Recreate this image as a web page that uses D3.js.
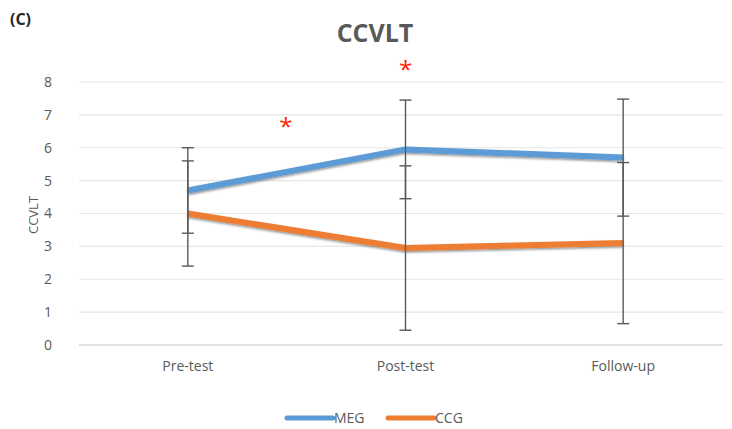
<!DOCTYPE html>
<html>
<head>
<meta charset="utf-8">
<script src="https://cdn.jsdelivr.net/npm/d3@7"></script>
<style>
  body { margin: 0; background: #fff; }
  svg text { font-family: "Open Sans", "Noto Sans", sans-serif; }
</style>
</head>
<body>
<div id="chart"></div>
<script>
// values
var categories = ["Pre-test", "Post-test", "Follow-up"];
var megValues = [4.7, 5.95, 5.7];
var ccgValues = [4.0, 2.95, 3.1];
var megErr = [1.3, 1.5, 1.78];
var ccgErr = [1.6, 2.5, 2.45];
var yTicks = [0, 1, 2, 3, 4, 5, 6, 7, 8];
var starMarks = [[0.45, 6.8], [1, 8.55]]; // [category position, value] for the "*" signs

var series = [
    {name: "MEG", values: megValues, err: megErr, color: "#5b9bd5"},
    {name: "CCG", values: ccgValues, err: ccgErr, color: "#ed7d31"}
];

var svgWidth = 732;
var svgHeight = 429;

var svg = d3.select("#chart")
    .append("svg")
    .attr("width", svgWidth)
    .attr("height", svgHeight);

var defs = svg.append("defs");
var shadow = defs.append("filter")
    .attr("id", "shadow")
    .attr("x", "-10%").attr("y", "-50%")
    .attr("width", "120%").attr("height", "200%");
shadow.append("feDropShadow")
    .attr("dx", 0).attr("dy", 1.5)
    .attr("stdDeviation", 1)
    .attr("flood-color", "#000")
    .attr("flood-opacity", 0.45);

var xBand = d3.scaleBand()
    .domain(categories)
    .range([79, 732]);

var xPos = function(i) { return xBand(categories[i]) + xBand.bandwidth() / 2; };

var yScale = d3.scaleLinear()
    .domain([0, 8])
    .range([345, 82]);

// gridlines
svg.append("g")
    .selectAll("line")
    .data(yTicks)
    .enter()
    .append("line")
    .attr("x1", 79)
    .attr("x2", 723)
    .attr("y1", d => yScale(d))
    .attr("y2", d => yScale(d))
    .attr("stroke", d => d == 0 ? "#d9d9d9" : "#e6e6e6")
    .attr("stroke-width", d => d == 0 ? 1.5 : 1.2);

// y axis labels
var leftAxis = d3.axisLeft(yScale).tickValues(yTicks).tickSize(0).tickPadding(0);
var yAxis = svg.append("g")
    .attr("transform", "translate(52,0)")
    .call(leftAxis);
yAxis.select(".domain").remove();
yAxis.selectAll("text")
    .attr("font-size", 14)
    .attr("fill", "#595959")
    .attr("font-family", "'Open Sans', sans-serif");

// x axis labels
var bottomAxis = d3.axisBottom(xBand).tickSize(0).tickPadding(0);
var xAxis = svg.append("g")
    .attr("transform", "translate(0,361)")
    .call(bottomAxis);
xAxis.select(".domain").remove();
xAxis.selectAll("text")
    .attr("font-size", 14)
    .attr("fill", "#595959")
    .attr("font-family", "'Open Sans', sans-serif");

// series lines
var line = d3.line()
    .x((d, i) => xPos(i))
    .y(d => yScale(d));

svg.append("g")
    .selectAll("path")
    .data(series)
    .enter()
    .append("path")
    .attr("d", d => line(d.values))
    .attr("fill", "none")
    .attr("stroke", d => d.color)
    .attr("stroke-width", 6)
    .attr("stroke-linejoin", "round")
    .attr("filter", "url(#shadow)");

// error bars
var capHalf = 6;
series.forEach(s => {
    var g = svg.append("g")
        .attr("stroke", "#595959")
        .attr("stroke-width", 1.4);
    s.values.forEach((v, i) => {
        var x = xPos(i);
        var top = yScale(v + s.err[i]);
        var bot = yScale(v - s.err[i]);
        g.append("line").attr("x1", x).attr("x2", x).attr("y1", top).attr("y2", bot);
        g.append("line").attr("x1", x - capHalf).attr("x2", x + capHalf).attr("y1", top).attr("y2", top);
        g.append("line").attr("x1", x - capHalf).attr("x2", x + capHalf).attr("y1", bot).attr("y2", bot);
    });
});

// significance stars
svg.append("g")
    .selectAll("text")
    .data(starMarks)
    .enter()
    .append("text")
    .attr("x", d => xPos(0) + d[0] * (xPos(1) - xPos(0)))
    .attr("y", d => yScale(d[1]) + 14)
    .attr("text-anchor", "middle")
    .attr("font-size", 24)
    .attr("fill", "#ff2200")
    .text("*");

// title
svg.append("text")
    .attr("x", 375)
    .attr("y", 42)
    .attr("text-anchor", "middle")
    .attr("font-size", 25)
    .attr("font-weight", "bold")
    .attr("fill", "#595959")
    .text("CCVLT");

svg.append("text")
    .attr("x", 10)
    .attr("y", 25)
    .attr("font-size", 16)
    .attr("font-weight", "bold")
    .attr("fill", "#262626")
    .text("(C)");

// y axis title
svg.append("text")
    .attr("transform", "translate(38,215) rotate(-90)")
    .attr("text-anchor", "middle")
    .attr("font-size", 13)
    .attr("fill", "#595959")
    .text("CCVLT");

// legend
var legend = svg.append("g").attr("transform", "translate(287,418)");
series.forEach((s, i) => {
    var lg = legend.append("g").attr("transform", `translate(${i * 101},0)`);
    lg.append("line")
        .attr("x1", 0).attr("x2", 46)
        .attr("y1", 0).attr("y2", 0)
        .attr("stroke", s.color)
        .attr("stroke-width", 5)
        .attr("stroke-linecap", "round");
    lg.append("text")
        .attr("x", 47)
        .attr("y", 5)
        .attr("font-size", 14)
        .attr("fill", "#595959")
        .text(s.name);
});
</script>
</body>
</html>
